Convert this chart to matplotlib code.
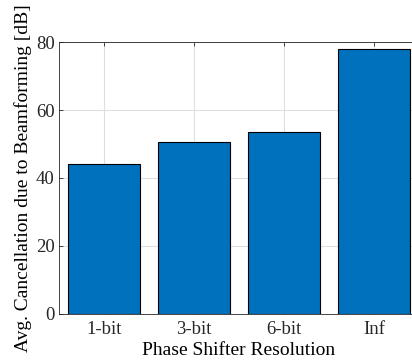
import matplotlib
matplotlib.use("Agg")
import matplotlib.pyplot as plt

plt.rcParams["font.family"] = ["Liberation Serif", "DejaVu Serif"]
plt.rcParams["mathtext.fontset"] = "stix"

# data
labels = ["1-bit", "3-bit", "6-bit", "Inf"]
cancellation_db = [44.1, 50.5, 53.4, 77.8]

fig = plt.figure(figsize=(4.12, 3.64), dpi=100)
ax = fig.add_axes([0.1432, 0.1374, 0.874, 0.7472])

x = list(range(1, len(labels) + 1))
ax.bar(x, cancellation_db, width=0.8, color="#0072BD", edgecolor="black",
       linewidth=0.8, zorder=3)

ax.set_xlim(0.5, 4.5)
ax.set_ylim(0, 80)
ax.set_xticks(x)
ax.set_xticklabels(labels)
ax.set_yticks([0, 20, 40, 60, 80])

ax.grid(True, color="#dfdfdf", linewidth=0.8, zorder=0)
ax.set_axisbelow(True)
ax.tick_params(direction="in", top=True, right=True, length=3,
               labelsize=13.5, colors="#262626", width=0.6)
ax.tick_params(axis="x", pad=5)
ax.tick_params(axis="y", pad=3)
for s in ax.spines.values():
    s.set_color("#262626")
    s.set_linewidth(0.6)

ax.set_xlabel("Phase Shifter Resolution", fontsize=14, labelpad=3)
ax.set_ylabel("Avg. Cancellation due to Beamforming [dB]", fontsize=14,
              labelpad=3)

fig.savefig("out.png", dpi=100)
